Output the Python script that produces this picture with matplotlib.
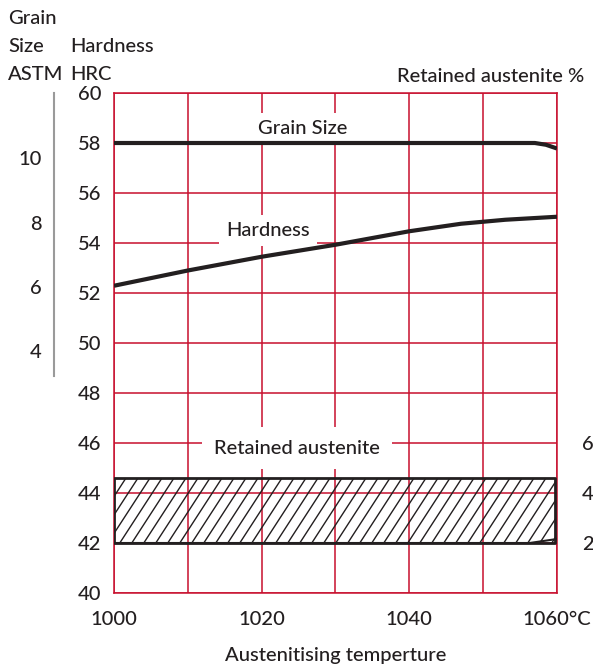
import matplotlib
matplotlib.use("Agg")
import matplotlib.pyplot as plt
from matplotlib.collections import LineCollection
import numpy as np

plt.rcParams['font.family'] = ['Lato', 'DejaVu Sans']
plt.rcParams['font.weight'] = 'medium'

# data
temps = [1000, 1010, 1020, 1030, 1040, 1047, 1053, 1060]
hardness = [52.29, 52.90, 53.45, 53.93, 54.47, 54.77, 54.93, 55.05]

grain_temps = [1000, 1057, 1058.5, 1060]
grain_size_line = [58.0, 58.0, 57.93, 57.78]   # drawn on the HRC scale

ra_temps = [1000, 1056.3, 1060]
ra_low = [2.0, 2.0, 2.16]     # retained austenite %
ra_high = 4.6

x_ticks = [1000, 1020, 1040, 1060]
x_labels = ['1000', '1020', '1040', '1060°C']
hrc_ticks = [40, 42, 44, 46, 48, 50, 52, 54, 56, 58, 60]
ra_ticks = [2, 4, 6]
grain_ticks = [4, 6, 8, 10]

RED = '#c8102e'
INK = '#231f20'
FS = 14.5


def hrc_to_ra(h):
    return np.asarray(h) - 40

def ra_to_hrc(r):
    return np.asarray(r) + 40

# ASTM grain size scale sits on the left, 2 ASTM units ~ 2.57 HRC
def hrc_to_grain(h):
    return (np.asarray(h) - 49.66) / 1.287 + 4

def grain_to_hrc(g):
    return (np.asarray(g) - 4) * 1.287 + 49.66


fig = plt.figure(figsize=(5.93, 6.66), dpi=100)
ax = fig.add_axes([114 / 593, 1 - 593 / 666, 443 / 593, 500 / 666])

ax.set_xlim(1000, 1060)
ax.set_ylim(40, 60)

# grid
ax.set_xticks(np.arange(1000, 1061, 10), minor=True)
ax.set_xticks(x_ticks)
ax.set_xticklabels(x_labels)
ax.set_yticks(hrc_ticks)
ax.grid(True, which='both', color=RED, linewidth=1.1)
for s in ax.spines.values():
    s.set_color(RED)
    s.set_linewidth(1.1)
ax.tick_params(which='both', length=0, labelsize=FS, colors=INK)
ax.tick_params(axis='y', pad=9)
ax.tick_params(axis='x', pad=13)

# curves (above the label boxes)
ax.plot(grain_temps, grain_size_line, color=INK, lw=3, solid_capstyle='butt', zorder=6)
ax.plot(temps, hardness, color=INK, lw=3, solid_capstyle='butt', zorder=6)

# retained austenite band, hatched with steep diagonal strokes
x0, x1 = 1000, 1059.7
y0, y1 = ra_to_hrc(ra_low[0]), ra_to_hrc(ra_high)
band = ax.fill_between([x0, x1], y0, y1, facecolor='none', edgecolor=INK,
                       linewidth=2, zorder=3)
trans = ax.transData
p0 = trans.transform((x0, y0))
p1 = trans.transform((x1, y1))
h = p1[1] - p0[1]
run = h / np.tan(np.radians(57))
segs = []
for sx in np.arange(p0[0] - run, p1[0] + run, 12):
    segs.append([(sx, p0[1]), (sx + run, p1[1])])
segs = [trans.inverted().transform(np.array(s)) for s in segs]
hatch = LineCollection(segs, colors=INK, linewidths=1.0, zorder=3)
ax.add_collection(hatch)
clip = band.get_paths()[0]
hatch.set_clip_path(clip, trans)
ax.plot(ra_temps, ra_to_hrc(ra_low), color=INK, lw=1.5, zorder=4)

# curve labels
box = dict(facecolor='white', edgecolor='none', boxstyle='square,pad=0.35')
ax.text(1025.6, 58.57, 'Grain Size', ha='center', va='center', fontsize=FS,
        color=INK, bbox=box, zorder=5)
ax.text(1020.9, 54.5, 'Hardness', ha='center', va='center', fontsize=FS,
        color=INK, bbox=box, zorder=5)
ax.text(1024.8, 45.8, 'Retained austenite', ha='center', va='center', fontsize=FS,
        color=INK, bbox=dict(facecolor='white', edgecolor='none',
                             boxstyle='square,pad=0.6'), zorder=5)

# right axis: retained austenite %
rax = ax.secondary_yaxis('right', functions=(hrc_to_ra, ra_to_hrc))
rax.set_yticks(ra_ticks)
rax.spines['right'].set_visible(False)
rax.tick_params(length=0, pad=18, labelsize=FS, colors=INK)

# left outer axis: ASTM grain size
gax = ax.secondary_yaxis(-60 / 443, functions=(hrc_to_grain, grain_to_hrc))
gax.set_yticks(grain_ticks)
gax.spines['left'].set_color('#9a9a9a')
gax.spines['left'].set_linewidth(1.5)
gax.spines['left'].set_bounds(hrc_to_grain(48.7), hrc_to_grain(60))
gax.tick_params(length=0, pad=9, labelsize=FS, colors=INK)

# x axis title
fig.text(336 / 593, 1 - 655 / 666, 'Austenitising temperture', fontsize=FS,
         color=INK, ha='center', va='center')

# headers
fig.text(8 / 593, 1 - 19 / 666, 'Grain', fontsize=FS, color=INK, va='center')
fig.text(8 / 593, 1 - 46 / 666, 'Size', fontsize=FS, color=INK, va='center')
fig.text(8 / 593, 1 - 74 / 666, 'ASTM', fontsize=FS, color=INK, va='center')
fig.text(70 / 593, 1 - 46 / 666, 'Hardness', fontsize=FS, color=INK, va='center')
fig.text(70 / 593, 1 - 74 / 666, 'HRC', fontsize=FS, color=INK, va='center')
fig.text(584 / 593, 1 - 76 / 666, 'Retained austenite %', fontsize=FS,
         color=INK, va='center', ha='right')

fig.savefig('out.png', dpi=100)
